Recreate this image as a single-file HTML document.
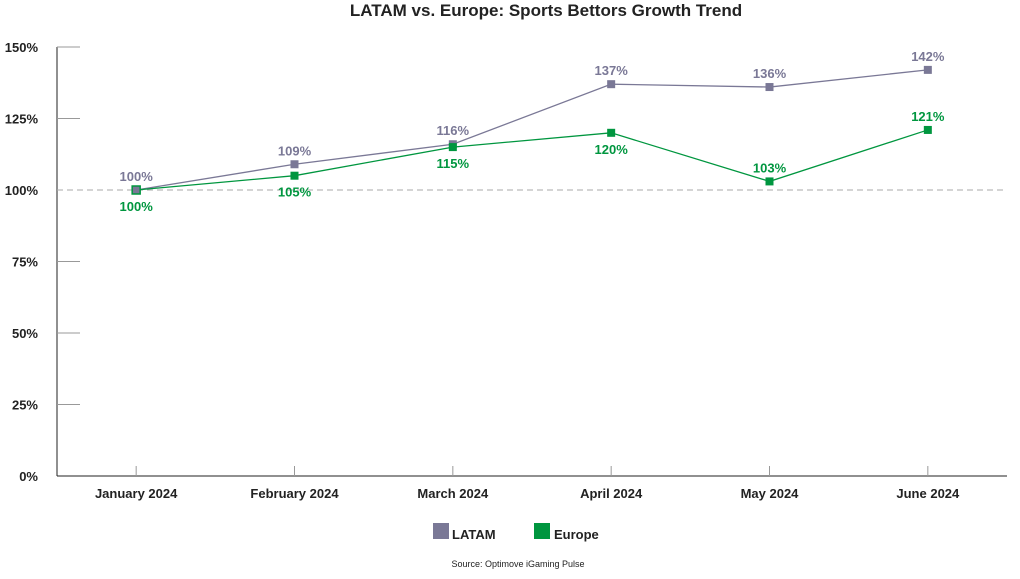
<!DOCTYPE html>
<html><head><meta charset="utf-8"><style>
body{margin:0;background:#fff;}
svg text{font-family:"Liberation Sans",sans-serif;}
</style></head><body>
<svg id="chart" width="1020" height="574" xmlns="http://www.w3.org/2000/svg">
<text x="546" y="16" text-anchor="middle" font-size="17" font-weight="bold" fill="#222">LATAM vs. Europe: Sports Bettors Growth Trend</text>
<g id="axes"></g><g id="marks"></g>
<g>
<rect x="433" y="523" width="16" height="16" fill="#7a7896"/>
<text x="452" y="539" font-size="13" font-weight="bold" fill="#222">LATAM</text>
<rect x="534" y="523" width="16" height="16" fill="#00963f"/>
<text x="554" y="539" font-size="13" font-weight="bold" fill="#222">Europe</text>
</g>
<text x="518" y="567" text-anchor="middle" font-size="9" fill="#222">Source: Optimove iGaming Pulse</text>
</svg>
<script>
const categories=["January 2024","February 2024","March  2024","April  2024","May 2024","June 2024"];
const latam=[100,109,116,137,136,142];
const europe=[100,105,115,120,103,121];
const yTicks=[0,25,50,75,100,125,150];
const NS="http://www.w3.org/2000/svg";
const x0=57,x1=1007,y0=476,y150=47;
const bw=(x1-x0)/categories.length;
const xs=i=>x0+bw*(i+0.5);
const ys=v=>y0-(y0-y150)*v/150;
function mk(tag,attrs,parent,text){const e=document.createElementNS(NS,tag);for(const k in attrs)e.setAttribute(k,attrs[k]);if(text!==undefined)e.textContent=text;parent.appendChild(e);return e;}
const ax=document.getElementById('axes'),mg=document.getElementById('marks');
let e=mk('line',{x1:x0,y1:y150,x2:x0,y2:y0,stroke:'#222','stroke-width':1},ax);


e=mk('line',{x1:x0,y1:y0,x2:x1,y2:y0,stroke:'#222','stroke-width':1},ax);


yTicks.forEach(t=>{
 const y=ys(t);
 if(t===100){e=mk('line',{x1:x0,y1:y,x2:x1,y2:y,stroke:'#aaa','stroke-dasharray':'6,4'},ax);
 
 }
 else if(t>0){e=mk('line',{x1:x0,y1:y,x2:x0+23,y2:y,stroke:'#999'},ax);
 
 }
 e=mk('text',{x:38,y:y+5,'text-anchor':'end','font-size':13,'font-weight':'bold',fill:'#222'},ax,t+'%');
 
 
});
categories.forEach((c,i)=>{
 e=mk('line',{x1:xs(i),y1:y0-10,x2:xs(i),y2:y0,stroke:'#999'},ax);
 
 
 e=mk('text',{x:xs(i),y:498,'text-anchor':'middle','font-size':13,'font-weight':'bold',fill:'#222','xml:space':'preserve'},ax,c);
 
 
});
function series(vals,color,name,below){
 e=mk('polyline',{points:vals.map((v,i)=>xs(i)+','+ys(v)).join(' '),fill:'none',stroke:color,'stroke-width':1.3},mg);
 
 
 vals.forEach((v,i)=>{
  e=mk('rect',{x:xs(i)-4,y:ys(v)-4,width:8,height:8,fill:color},mg);
  
  
  const b=below(i);
  e=mk('text',{x:xs(i),y:b?ys(v)+21:ys(v)-9,'text-anchor':'middle','font-size':13,'font-weight':'bold',fill:color},mg,v+'%');
  
  
 });
}
series(latam,'#7a7896','latam',()=>false);
series(europe,'#00963f','europe',i=>i<4);
// Europe first point drawn with green outline over LATAM
e=mk('rect',{x:xs(0)-4,y:ys(europe[0])-4,width:8,height:8,fill:'#7a7896',stroke:'#00963f','stroke-width':1.5},mg);


</script>
</body></html>
